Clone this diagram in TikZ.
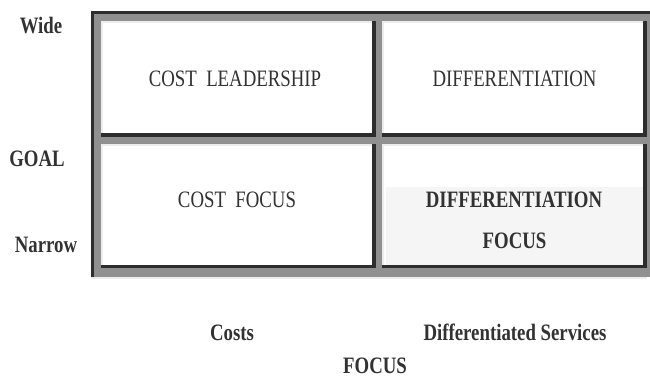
\documentclass[tikz,border=0pt]{standalone}
\usepackage{fontspec}
\setmainfont{Liberation Serif}[FakeStretch=0.8]
\usepackage{tikz}
\usetikzlibrary{positioning}
\definecolor{tabdark}{RGB}{45,45,45}
\definecolor{tabgray}{RGB}{144,144,144}
\definecolor{tablight}{RGB}{236,236,236}
\definecolor{shadebg}{RGB}{245,245,245}
\definecolor{inkgray}{RGB}{50,50,50}

% one table cell: white face, light top/left edge, dark bottom/right edge
\newcommand{\bevelcell}[4]{%
    \fill[white] (#1,#2) rectangle (#3,#4);
    \fill[tablight] (#1,#2) rectangle (#3,#2+2);
    \fill[tablight] (#1,#2) rectangle (#1+2,#4);
    \fill[tabdark] (#1,#4-3.5) rectangle (#3,#4);
    \fill[tabdark] (#3-4,#2) rectangle (#3,#4);
}

\begin{document}
\begin{tikzpicture}[
    x=1pt, y=-1pt,
    every node/.style={inner sep=0pt, anchor=base, text=inkgray, font=\fontsize{23.5}{28}\selectfont},
    cell/.style={},
    axis/.style={font=\fontsize{23.5}{28}\selectfont\bfseries}
]
    \useasboundingbox[fill=white] (0,0) rectangle (650,379);

    % outer frame
    \fill[tabgray] (91,11) rectangle (650,277);
    \fill[tabdark] (91,11) rectangle (650,14);
    \fill[tabdark] (91,11) rectangle (94,277);
    \fill[tablight] (91,277) rectangle (647,279);

    % the four cells
    \bevelcell{101}{21}{376}{137}
    \bevelcell{382}{21}{647}{137}
    \bevelcell{101}{144}{376}{268}
    \bevelcell{382}{144}{647}{268}
    \fill[shadebg] (386,187) rectangle (643,264.5);

    % cell texts
    \node[cell] (costlead) at (235,87) {COST\ \ LEADERSHIP};
    \node[cell] (diff) at (514.5,87) {DIFFERENTIATION};
    \node[cell] (costfocus) at (237,208) {COST\ \ FOCUS};
    \node[axis] (diffbold) at (514,208) {DIFFERENTIATION};
    \node[axis] (focusbold) at (514.5,248) {FOCUS};

    % goal axis
    \node[axis] (wide) at (41,34) {Wide};
    \node[axis] (goal) at (37,167) {GOAL};
    \node[axis] (narrow) at (46,253) {Narrow};

    % focus axis
    \node[axis] (costs) at (232,340) {Costs};
    \node[axis] (diffserv) at (515,340) {Differentiated Services};
    \node[axis] (focus) at (375,373.5) {FOCUS};
\end{tikzpicture}
\end{document}
